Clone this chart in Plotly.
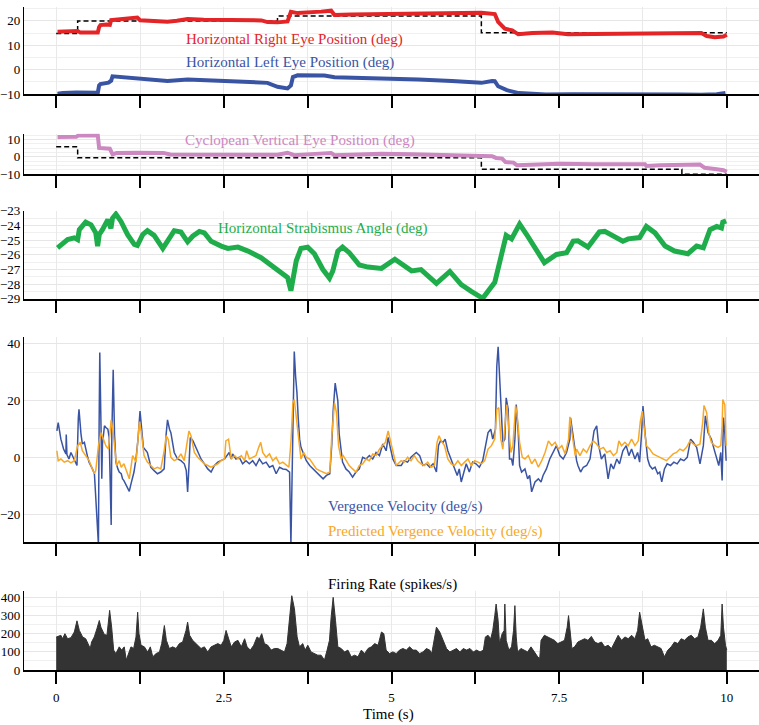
import plotly.graph_objects as go

# ---------------- data ----------------
x_ticks = [0, 1.25, 2.5, 3.75, 5, 6.25, 7.5, 8.75, 10]
x_tick_text = ["0", "", "2.5", "", "5", "", "7.5", "", "10"]

t_right = [0.02, 0.10, 0.20, 0.32, 0.36, 0.50, 0.62, 0.64, 0.66, 0.75, 0.80, 0.82, 0.95, 1.10, 1.21, 1.25,
           1.45, 1.66, 1.80, 1.96, 2.20, 2.50, 2.80, 3.06, 3.15, 3.30, 3.45, 3.50, 3.60, 3.80, 3.95, 4.10,
           4.15, 4.40, 4.85, 5.30, 5.80, 6.20, 6.34, 6.54, 6.59, 6.69, 6.80, 6.89, 7.10, 7.40, 7.63, 8.00,
           8.50, 9.00, 9.50, 9.62, 9.70, 9.82, 9.95, 10.0]
right_pos = [15.6, 15.7, 15.8, 15.9, 15.2, 15.0, 15.2, 17.5, 18.3, 18.5, 18.4, 20.3, 20.6, 21.3, 21.4, 20.3,
             20.0, 19.7, 20.1, 20.8, 20.5, 20.4, 20.3, 20.2, 19.5, 19.4, 19.8, 23.7, 23.2, 23.4, 23.8, 24.2,
             22.4, 22.6, 22.8, 23.0, 22.9, 23.1, 23.3, 22.8, 19.6, 16.8, 16.1, 14.5, 15.0, 15.2, 14.5, 14.6,
             14.7, 15.2, 15.3, 15.0, 13.8, 13.3, 13.6, 14.3]

t_right_target = [0.0, 0.32, 3.30, 6.34, 10.0]
right_target = [14.8, 20.0, 22.0, 15.1, 15.1]

t_left = [0.02, 0.10, 0.30, 0.50, 0.62, 0.64, 0.66, 0.78, 0.82, 0.84, 0.95, 1.20, 1.26, 1.66, 1.96, 2.40,
          3.00, 3.15, 3.30, 3.45, 3.50, 3.53, 3.60, 4.00, 4.15, 4.40, 4.85, 5.40, 5.90, 6.34, 6.50, 6.54,
          6.59, 6.72, 6.90, 7.06, 7.30, 7.70, 8.20, 8.80, 9.30, 9.62, 9.85, 9.98]
left_pos = [-9.9, -9.6, -9.4, -9.3, -9.5, -6.5, -5.9, -5.3, -4.5, -2.7, -3.0, -3.6, -3.9, -4.6, -4.0, -4.5,
            -5.0, -5.4, -7.0, -7.7, -6.5, -3.0, -2.3, -2.4, -3.1, -3.2, -3.6, -4.0, -4.6, -5.4, -4.6, -4.7,
            -6.8, -8.4, -9.6, -9.9, -10.2, -10.1, -10.0, -10.1, -10.2, -10.3, -10.1, -9.5]

t_cyc = [0.02, 0.20, 0.30, 0.33, 0.62, 0.64, 0.70, 0.80, 0.84, 0.90, 1.20, 1.60, 1.70, 2.20, 2.60, 3.10,
         3.30, 3.45, 3.55, 3.80, 4.10, 4.15, 4.50, 4.85, 5.30, 5.80, 6.34, 6.50, 6.56, 6.65, 6.70, 6.82,
         6.87, 7.00, 7.50, 8.00, 8.78, 8.80, 9.00, 9.60, 9.67, 9.85, 9.95, 10.0]
cyc_pos = [11.5, 11.4, 11.6, 12.4, 12.5, 5.2, 4.8, 4.7, 1.5, 2.2, 2.4, 2.3, 1.4, 1.3, 0.9, 0.8,
           1.2, 2.4, 1.0, 1.6, 2.3, 1.0, 1.4, 1.8, 1.5, 1.2, 0.6, 0.4, -0.6, -1.0, -3.0, -3.3,
           -4.8, -4.6, -4.0, -4.2, -4.2, -5.2, -4.8, -4.4, -6.3, -7.1, -7.7, -8.6]

t_cyc_target = [0.0, 0.32, 6.34, 9.33, 10.0]
cyc_target = [5.8, -0.5, -7.1, -10.0, -10.0]

t_strab = [0.02, 0.095, 0.17, 0.27, 0.32, 0.345, 0.44, 0.52, 0.59, 0.618, 0.643, 0.69, 0.77, 0.816, 0.84,
           0.89, 0.966, 1.065, 1.165, 1.21, 1.29, 1.36, 1.46, 1.59, 1.66, 1.76, 1.86, 1.96, 2.035, 2.135,
           2.21, 2.31, 2.46, 2.56, 2.71, 2.86, 3.055, 3.25, 3.45, 3.50, 3.53, 3.58, 3.65, 3.75, 3.85,
           3.975, 4.075, 4.125, 4.20, 4.27, 4.37, 4.52, 4.65, 4.85, 5.05, 5.30, 5.44, 5.67, 5.87, 6.04,
           6.19, 6.36, 6.54, 6.61, 6.66, 6.71, 6.79, 6.91, 7.03, 7.28, 7.46, 7.61, 7.71, 7.78, 7.93,
           8.10, 8.18, 8.38, 8.45, 8.53, 8.70, 8.80, 8.93, 9.08, 9.22, 9.42, 9.55, 9.65, 9.75, 9.85,
           9.92, 9.94, 9.99]
strab = [-25.52, -25.18, -24.96, -24.84, -24.96, -24.28, -23.77, -23.95, -24.5, -25.4, -24.6, -24.28,
         -23.6, -24.2, -23.5, -23.22, -23.72, -24.62, -25.29, -25.36, -24.62, -24.35, -24.67, -25.56,
         -25.07, -24.35, -24.44, -25.11, -24.73, -24.4, -24.5, -25.07, -25.4, -25.56, -25.47, -25.74,
         -26.19, -26.87, -27.54, -28.44, -27.54, -26.4, -25.56, -25.47, -25.92, -26.98, -27.58, -27.09,
         -25.74, -25.47, -25.85, -26.69, -26.83, -26.92, -26.3, -27.09, -27.0, -27.94, -27.13, -28.03,
         -28.48, -28.96, -27.87, -26.4, -25.65, -24.67, -24.91, -23.9, -24.73, -26.53, -25.97, -25.85,
         -25.07, -25.04, -25.47, -24.44, -24.4, -24.96, -25.07, -24.91, -24.82, -24.06, -24.5, -25.4,
         -25.74, -25.92, -25.4, -25.52, -24.28, -24.06, -24.17, -23.77, -23.68]

t_vv = [0.01, 0.03, 0.07, 0.11, 0.145, 0.15, 0.16, 0.19, 0.22, 0.24, 0.27, 0.29, 0.31, 0.33, 0.34, 0.37,
        0.39, 0.42, 0.44, 0.47, 0.49, 0.52, 0.54, 0.57, 0.59, 0.62, 0.63, 0.64, 0.65, 0.67, 0.68, 0.69,
        0.72, 0.74, 0.77, 0.79, 0.81, 0.82, 0.83, 0.85, 0.87, 0.89, 0.92, 0.94, 0.97, 0.99, 1.01, 1.05,
        1.09, 1.11, 1.14, 1.16, 1.19, 1.22, 1.25, 1.27, 1.30, 1.34, 1.36, 1.39, 1.41, 1.46, 1.51, 1.56,
        1.61, 1.64, 1.66, 1.69, 1.71, 1.76, 1.81, 1.86, 1.91, 1.94, 1.96, 1.98, 2.00, 2.04, 2.06, 2.11,
        2.16, 2.21, 2.26, 2.31, 2.36, 2.41, 2.46, 2.51, 2.58, 2.61, 2.63, 2.68, 2.73, 2.78, 2.83, 2.88,
        2.93, 2.98, 3.03, 3.08, 3.13, 3.18, 3.23, 3.28, 3.33, 3.38, 3.43, 3.48, 3.50, 3.52, 3.54, 3.55,
        3.57, 3.59, 3.61, 3.63, 3.65, 3.68, 3.73, 3.78, 3.83, 3.88, 3.93, 3.98, 4.03, 4.08, 4.11, 4.13,
        4.16, 4.20, 4.22, 4.25, 4.27, 4.32, 4.37, 4.42, 4.47, 4.52, 4.57, 4.62, 4.67, 4.72, 4.77, 4.82,
        4.87, 4.92, 4.95, 4.97, 5.02, 5.07, 5.145, 5.19, 5.24, 5.29, 5.37, 5.42, 5.47, 5.52, 5.57, 5.62,
        5.67, 5.70, 5.73, 5.77, 5.80, 5.84, 5.89, 5.94, 5.98, 6.01, 6.04, 6.08, 6.115, 6.16, 6.21, 6.26,
        6.31, 6.36, 6.40, 6.44, 6.48, 6.51, 6.55, 6.57, 6.59, 6.61, 6.64, 6.66, 6.69, 6.71, 6.74, 6.76,
        6.79, 6.81, 6.84, 6.86, 6.89, 6.91, 6.94, 6.99, 7.03, 7.06, 7.09, 7.14, 7.19, 7.23, 7.26, 7.31,
        7.36, 7.41, 7.46, 7.51, 7.56, 7.61, 7.66, 7.67, 7.71, 7.76, 7.78, 7.82, 7.86, 7.91, 7.96, 7.99,
        8.02, 8.06, 8.09, 8.13, 8.18, 8.23, 8.27, 8.31, 8.36, 8.40, 8.45, 8.50, 8.54, 8.58, 8.63, 8.67,
        8.70, 8.73, 8.75, 8.78, 8.82, 8.85, 8.89, 8.93, 8.97, 9.00, 9.03, 9.07, 9.11, 9.16, 9.21, 9.26,
        9.31, 9.36, 9.41, 9.46, 9.50, 9.55, 9.60, 9.65, 9.68, 9.72, 9.77, 9.81, 9.85, 9.88, 9.91, 9.93,
        9.95, 9.97, 9.99]
vv = [9.3, 12.2, 6.4, 2.9, 1.2, 8.0, 1.0, -0.6, 1.7, 0.6, -1.2, -1.7, -2.9, 13.9, 16.9, 8.2,
      4.7, 5.3, 2.9, 0.0, -1.7, -2.9, -4.1, -5.8, -14.6, -28.6, -30.9, 11.0, 37.0, 8.7, -7.6, 4.7,
      11.1, 10.5, 9.9, 7.0, -21.6, -23.9, 8.2, 30.9, 8.2, -1.7, -4.1, -5.2, -5.8, -7.6, -8.2, -9.9,
      -12.0, -9.9, -7.6, -5.2, -0.6, 6.4, 16.3, 11.1, 3.5, 2.3, 1.7, -1.2, -3.5, -4.7, -5.8, -5.2,
      -4.1, 8.2, 13.2, 9.9, 8.7, 1.7, -0.6, -1.2, -2.3, -4.7, -12.2, -2.9, 7.0, 5.8, 4.7, 2.3,
      -0.6, -2.3, -4.1, -5.2, -2.9, -1.7, -1.2, -0.6, 1.7, -0.6, 1.2, -0.6, 0.0, -2.3, -1.2, -2.3,
      -1.2, -2.9, -0.6, -2.3, -1.7, -3.5, -2.9, -5.8, -3.5, -4.1, -4.3, -5.2, -30.9, -2.9, 29.7, 37.3,
      28.6, 22.8, 13.5, 6.4, 3.5, 1.7, -1.2, -2.9, -4.1, -5.2, -6.4, -7.6, -6.4, -5.8, 4.7, 16.3,
      26.2, 19.8, 8.2, 0.6, -1.7, -4.1, -5.2, -7.0, -5.2, -4.1, 0.0, -0.6, 0.6, -0.6, 1.7, 0.6,
      4.7, 2.3, 7.0, 4.7, -0.6, -2.9, -2.9, -1.2, -1.7, 0.0, 1.7, 0.6, -2.9, -2.3, -3.5, -2.3,
      -5.2, 4.1, 5.8, 5.3, 6.4, 2.3, -0.6, -3.5, -6.4, -4.1, -8.7, -5.2, -2.3, -5.2, -1.7, -2.3,
      -3.5, -1.2, 4.1, 8.7, 9.9, 6.4, 9.9, 32.1, 39.0, 29.7, 13.5, 5.3, 6.4, 21.0, 16.9, -0.6,
      -0.6, -2.9, 6.4, 18.6, 8.7, -2.9, -5.2, -4.1, -7.6, -6.4, -12.2, -8.7, -7.6, -8.7, -6.4, -4.1,
      -0.6, 1.7, 4.1, 0.6, -0.6, 1.7, 6.4, 13.9, 7.0, -1.2, -2.9, -5.2, -3.5, -2.9, -0.6, 5.3,
      9.3, 11.1, 4.1, -0.6, 1.2, -7.6, -2.3, -4.1, -0.6, -2.3, 2.3, 4.1, 0.6, 2.9, -0.6, 1.7,
      -1.7, 8.7, 18.1, 8.7, -0.6, -2.9, -4.1, -3.5, -5.8, -5.2, -8.7, -4.1, -2.3, -2.9, -1.7, -2.3,
      -0.6, -1.2, 0.0, 6.4, 5.3, 3.5, -2.3, 4.1, 14.6, 8.7, 6.4, 2.9, -0.6, -2.9, 1.7, -8.2,
      14.0, 8.7, -1.2]

t_pvv = [0.01, 0.03, 0.07, 0.12, 0.17, 0.22, 0.27, 0.32, 0.36, 0.39, 0.44, 0.49, 0.54, 0.57, 0.59, 0.63,
         0.67, 0.71, 0.74, 0.78, 0.80, 0.82, 0.85, 0.88, 0.90, 0.94, 0.97, 1.01, 1.05, 1.09, 1.14, 1.19,
         1.22, 1.24, 1.27, 1.31, 1.36, 1.41, 1.46, 1.51, 1.56, 1.61, 1.64, 1.67, 1.71, 1.76, 1.81, 1.86,
         1.91, 1.96, 1.98, 2.01, 2.06, 2.11, 2.16, 2.21, 2.26, 2.31, 2.36, 2.41, 2.46, 2.51, 2.53, 2.57,
         2.61, 2.66, 2.71, 2.76, 2.81, 2.84, 2.88, 2.93, 2.98, 3.02, 3.05, 3.08, 3.13, 3.18, 3.23, 3.28,
         3.33, 3.38, 3.43, 3.47, 3.50, 3.53, 3.55, 3.59, 3.62, 3.65, 3.69, 3.73, 3.78, 3.83, 3.88, 3.93,
         3.98, 4.03, 4.08, 4.11, 4.15, 4.18, 4.21, 4.25, 4.28, 4.32, 4.37, 4.42, 4.47, 4.52, 4.57, 4.62,
         4.67, 4.72, 4.77, 4.82, 4.87, 4.91, 4.95, 4.98, 5.02, 5.07, 5.145, 5.19, 5.24, 5.29, 5.34, 5.39,
         5.44, 5.49, 5.54, 5.59, 5.64, 5.68, 5.71, 5.74, 5.79, 5.84, 5.89, 5.94, 5.99, 6.04, 6.09, 6.14,
         6.19, 6.24, 6.29, 6.34, 6.39, 6.44, 6.49, 6.54, 6.57, 6.60, 6.63, 6.66, 6.70, 6.72, 6.75, 6.78,
         6.81, 6.85, 6.87, 6.91, 6.95, 6.99, 7.04, 7.09, 7.14, 7.19, 7.24, 7.29, 7.34, 7.39, 7.44, 7.49,
         7.54, 7.59, 7.64, 7.66, 7.69, 7.74, 7.76, 7.81, 7.86, 7.91, 7.96, 8.01, 8.06, 8.11, 8.16, 8.21,
         8.26, 8.31, 8.36, 8.39, 8.43, 8.48, 8.53, 8.58, 8.63, 8.68, 8.71, 8.74, 8.77, 8.80, 8.85, 8.90,
         8.95, 9.00, 9.05, 9.10, 9.15, 9.20, 9.25, 9.30, 9.35, 9.40, 9.45, 9.50, 9.55, 9.60, 9.64, 9.66,
         9.70, 9.73, 9.77, 9.82, 9.87, 9.91, 9.93, 9.94, 9.97, 9.99]
pvv = [2.3, -1.2, -0.6, -1.7, -1.2, -2.0, -1.2, 4.1, 5.3, 2.3, 0.6, -1.2, -4.1, -5.8, -4.7, 4.1,
       8.7, 6.4, 4.1, 2.9, 8.7, 13.2, 8.7, 0.6, -2.9, -1.2, -3.5, -2.3, -5.2, -7.6, 0.6, -1.7,
       6.4, 12.6, 8.7, 0.6, -1.7, -2.9, -4.1, -3.5, -4.1, 2.3, 7.6, 6.4, 0.0, -1.2, -0.6, 1.2,
       -1.2, 6.4, 9.3, 7.6, 1.7, 0.0, -1.2, -2.3, -2.9, -3.5, -2.9, -2.3, -1.2, -0.6, 5.8, 6.4,
       -0.6, 0.6, -0.6, 0.6, -1.2, 2.3, -0.6, 0.0, 0.6, 3.5, 5.3, 1.7, 0.0, 1.2, -1.2, 0.0,
       -2.3, -1.7, -2.9, -3.5, 5.3, 19.2, 20.4, 11.1, 4.1, -0.6, 1.7, 0.0, -0.6, -2.3, -4.1, -4.7,
       -5.2, -5.8, -5.2, 7.6, 19.2, 15.7, 4.1, -0.6, 0.6, -1.2, -2.9, -4.1, -5.2, -2.9, -2.3, -0.6,
       -1.2, 1.2, 0.6, 2.9, 4.1, 5.3, 9.3, 6.4, 1.7, -2.9, -1.2, -1.7, 0.0, -1.2, 0.6, -1.2,
       -2.3, -2.9, -1.7, -3.5, -2.9, 5.3, 7.6, 5.8, 4.1, -0.6, -2.3, -2.9, -1.2, -2.9, -1.7, -0.6,
       -2.9, -1.2, -1.7, -2.3, -1.2, 2.9, 4.1, 6.4, 16.9, 17.5, 6.4, 2.9, 13.5, 18.6, 9.9, 1.7,
       4.1, 18.1, 15.7, 5.3, 0.0, -0.6, 0.6, -2.3, -0.6, -3.5, -1.2, 1.7, 5.8, 4.1, 5.3, 2.9,
       4.1, 1.2, 6.4, 14.3, 8.7, 0.6, 2.9, 0.6, 2.9, 1.7, 4.1, 5.8, 4.7, 2.9, 3.5, 1.7,
       2.3, 0.6, 1.7, 5.8, 4.1, 5.3, 4.1, 6.4, 4.1, 5.8, 12.6, 16.3, 9.9, 4.1, 2.9, 1.2,
       0.6, 0.0, -0.6, -1.2, 0.0, 1.2, 1.7, 2.9, 2.3, 3.5, 5.8, 4.7, 4.1, 4.7, 12.2, 18.3,
       15.7, 8.7, 5.3, 4.1, 3.5, 4.1, 11.1, 20.4, 18.6, 4.1]

t_fr = [0.0, 0.021, 0.07, 0.095, 0.13, 0.17, 0.22, 0.27, 0.31, 0.345, 0.394, 0.44, 0.478, 0.508, 0.528,
        0.568, 0.607, 0.643, 0.667, 0.717, 0.757, 0.777, 0.797, 0.827, 0.857, 0.89, 0.94, 0.976, 1.015,
        1.045, 1.075, 1.115, 1.155, 1.19, 1.215, 1.235, 1.265, 1.315, 1.364, 1.404, 1.44, 1.49, 1.54,
        1.573, 1.613, 1.643, 1.687, 1.737, 1.787, 1.837, 1.886, 1.936, 1.96, 1.99, 2.035, 2.11, 2.16,
        2.21, 2.26, 2.31, 2.36, 2.41, 2.46, 2.50, 2.533, 2.568, 2.61, 2.66, 2.71, 2.76, 2.81, 2.846,
        2.895, 2.945, 2.995, 3.03, 3.065, 3.105, 3.155, 3.205, 3.254, 3.304, 3.354, 3.404, 3.443, 3.478,
        3.513, 3.553, 3.593, 3.628, 3.677, 3.712, 3.752, 3.80, 3.85, 3.90, 3.95, 4.0, 4.04, 4.075, 4.10,
        4.13, 4.165, 4.2, 4.25, 4.30, 4.35, 4.40, 4.45, 4.50, 4.55, 4.60, 4.65, 4.70, 4.75, 4.80, 4.85,
        4.886, 4.92, 4.97, 5.02, 5.07, 5.12, 5.17, 5.22, 5.27, 5.32, 5.37, 5.42, 5.47, 5.52, 5.57,
        5.60, 5.64, 5.67, 5.72, 5.77, 5.82, 5.87, 5.92, 5.97, 6.02, 6.07, 6.12, 6.17, 6.22, 6.27, 6.32,
        6.37, 6.40, 6.44, 6.48, 6.51, 6.54, 6.56, 6.59, 6.61, 6.65, 6.68, 6.69, 6.71, 6.75, 6.79, 6.82,
        6.84, 6.86, 6.88, 6.93, 6.98, 7.03, 7.08, 7.13, 7.18, 7.21, 7.23, 7.28, 7.33, 7.38, 7.43, 7.48,
        7.53, 7.58, 7.62, 7.64, 7.66, 7.69, 7.73, 7.78, 7.83, 7.88, 7.93, 7.98, 8.03, 8.08, 8.13, 8.18,
        8.23, 8.28, 8.33, 8.38, 8.43, 8.48, 8.53, 8.58, 8.63, 8.67, 8.70, 8.74, 8.78, 8.82, 8.87, 8.92,
        8.97, 9.02, 9.07, 9.12, 9.17, 9.22, 9.27, 9.32, 9.37, 9.42, 9.47, 9.52, 9.57, 9.61, 9.65, 9.68,
        9.72, 9.77, 9.82, 9.87, 9.91, 9.93, 9.95, 9.98, 10.0]
fr = [182, 186, 192, 173, 201, 173, 179, 210, 272, 219, 183, 173, 146, 119, 155,
      183, 228, 274, 237, 197, 192, 246, 330, 237, 110, 91, 128, 110, 128,
      55, 82, 128, 119, 183, 320, 201, 137, 128, 100, 128, 73, 91, 100,
      146, 246, 164, 119, 128, 119, 146, 155, 219, 265, 192, 164, 137, 119,
      128, 100, 128, 137, 146, 137, 164, 219, 173, 128, 155, 164, 128, 173, 128,
      110, 137, 183, 173, 201, 146, 137, 110, 119, 119, 110, 100, 146, 274,
      411, 338, 183, 128, 146, 110, 137, 100, 91, 82, 82, 55, 110, 164, 292,
      402, 274, 128, 119, 100, 110, 73, 82, 73, 110, 91, 119, 128, 146, 137, 210,
      201, 110, 91, 100, 91, 110, 119, 110, 128, 110, 110, 91, 100, 119, 110,
      91, 183, 237, 210, 164, 119, 100, 110, 119, 100, 119, 110, 119, 100, 110, 100,
      110, 183, 192, 173, 219, 301, 365, 274, 146, 201, 219, 365, 164, 110, 128, 219,
      356, 183, 100, 119, 110, 100, 128, 100, 73, 64, 164, 192, 183, 173, 164, 146,
      155, 164, 237, 301, 228, 119, 128, 155, 164, 173, 164, 186, 155, 146, 155, 128,
      137, 119, 155, 192, 164, 183, 173, 192, 173, 219, 320, 237, 164, 173, 128, 137,
      128, 119, 73, 110, 128, 155, 146, 173, 164, 183, 192, 173, 183, 237, 338, 237,
      164, 164, 146, 164, 192, 365, 237, 137, 110]

# ---------------- styling ----------------
RED = "#e32528"
BLUE = "#3a54a4"
PINK = "#cc88c0"
GREEN = "#1fad4b"
ORANGE = "#f7a827"
DARK = "#333333"
SERIF = "Liberation Serif"

H_PLOT = 670.0
def yf(py):
    return (H_PLOT - py) / H_PLOT
def xf(px):
    return (px - 23.0) / 736.0

fig = go.Figure()

# panel 1
fig.add_trace(go.Scatter(x=t_right_target, y=right_target, mode="lines", line_shape="hv",
                         line=dict(color="black", width=1.5, dash="5px,3px"), xaxis="x", yaxis="y"))
fig.add_trace(go.Scatter(x=t_right, y=right_pos, mode="lines",
                         line=dict(color=RED, width=4), xaxis="x", yaxis="y"))
fig.add_trace(go.Scatter(x=t_left, y=left_pos, mode="lines",
                         line=dict(color=BLUE, width=4), xaxis="x", yaxis="y"))
# panel 2
fig.add_trace(go.Scatter(x=t_cyc_target, y=cyc_target, mode="lines", line_shape="hv",
                         line=dict(color="black", width=1.5, dash="5px,3px"), xaxis="x2", yaxis="y2"))
fig.add_trace(go.Scatter(x=t_cyc, y=cyc_pos, mode="lines",
                         line=dict(color=PINK, width=4), xaxis="x2", yaxis="y2"))
# panel 3
fig.add_trace(go.Scatter(x=t_strab, y=strab, mode="lines",
                         line=dict(color=GREEN, width=5), xaxis="x3", yaxis="y3"))
# panel 4
fig.add_trace(go.Scatter(x=t_vv, y=vv, mode="lines",
                         line=dict(color=BLUE, width=1.5), xaxis="x4", yaxis="y4"))
fig.add_trace(go.Scatter(x=t_pvv, y=pvv, mode="lines",
                         line=dict(color=ORANGE, width=1.5), xaxis="x4", yaxis="y4"))
# panel 5
fig.add_trace(go.Scatter(x=t_fr, y=fr, mode="lines", fill="tozeroy", fillcolor=DARK,
                         line=dict(color=DARK, width=1), xaxis="x5", yaxis="y5"))

domains = [(yf(88), 1.0), (yf(169), yf(128)), (yf(295), yf(206)), (yf(541), yf(333)), (0.0, yf(590))]
yranges = [[-10, 25.7], [-10, 13.4], [-29, -23], [-30, 42.6], [0, 438]]
ydticks = [10, 10, 1, 20, 100]
yminor = [5, 2.5, 0.5, 10, 50]

layout = dict(
    width=759, height=725,
    margin=dict(l=23, r=0, t=0, b=55),
    paper_bgcolor="white", plot_bgcolor="white",
    showlegend=False, hovermode=False,
    font=dict(family=SERIF, size=13, color="black"),
)
for i in range(5):
    sx = "" if i == 0 else str(i + 1)
    layout["xaxis" + sx] = dict(
        domain=[0, 1], range=[-0.48, 10.48], anchor="y" + sx,
        tickmode="array", tickvals=x_ticks, ticktext=x_tick_text,
        showticklabels=(i == 4),
        ticks="outside", ticklen=12, tickwidth=2, tickcolor="black",
        showline=True, linecolor="black", linewidth=2,
        showgrid=True, gridcolor="#e9e9e9", gridwidth=1, zeroline=False,
        tickfont=dict(family=SERIF, size=13, color="black"),
        ticklabelstandoff=2,
    )
    layout["yaxis" + sx] = dict(
        domain=list(domains[i]), range=yranges[i], anchor="x" + sx,
        tickmode="linear", tick0=0, dtick=ydticks[i],
        showline=True, linecolor="black", linewidth=1.2, ticks="",
        showgrid=True, gridcolor="#e6e6e6", gridwidth=1, zeroline=False,
        minor=dict(dtick=yminor[i], showgrid=True, gridcolor="#f0f0f0", gridwidth=1),
        tickfont=dict(family=SERIF, size=13, color="black"),
    )

fig.update_layout(**layout)

ann = [
    ("Horizontal Right Eye Position (deg)", RED, xf(183), yf(33), "left"),
    ("Horizontal Left Eye Position (deg)", BLUE, xf(183), yf(56), "left"),
    ("Cyclopean Vertical Eye Position (deg)", PINK, xf(182), yf(135), "left"),
    ("Horizontal Strabismus Angle (deg)", GREEN, xf(215), yf(224), "left"),
    ("Vergence Velocity (deg/s)", BLUE, xf(325), yf(505), "left"),
    ("Predicted Vergence Velocity (deg/s)", ORANGE, xf(325), yf(530), "left"),
    ("Firing Rate (spikes/s)", "black", xf(325), yf(584), "left"),
    ("Time (s)", "black", xf(388), yf(715), "center"),
]
for text, col, x, y, xa in ann:
    fig.add_annotation(text=text, x=x, y=y, xref="paper", yref="paper", xanchor=xa, yanchor="middle",
                       showarrow=False, font=dict(family=SERIF, size=15, color=col))

fig.write_html("out.html", config={"displayModeBar": False},
               post_script="document.body.style.margin='0px';")
